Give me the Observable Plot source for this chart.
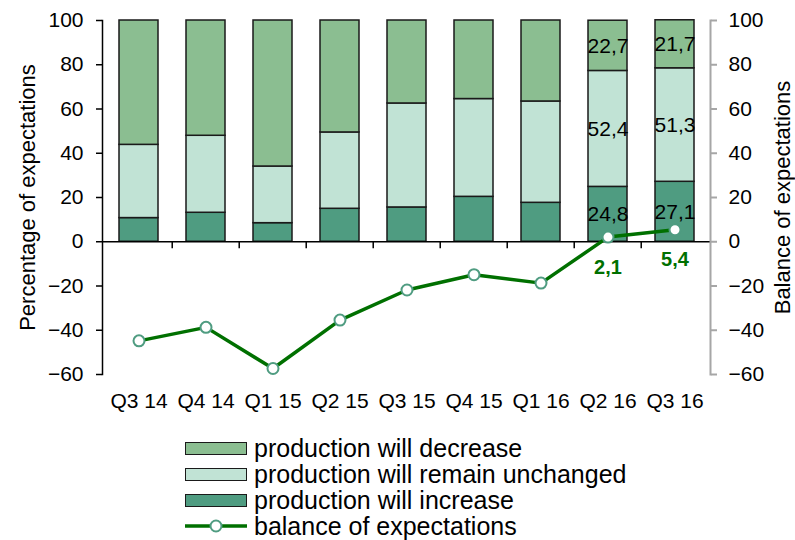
<!DOCTYPE html>
<html><head><meta charset="utf-8">
<script src="https://cdn.jsdelivr.net/npm/d3@7"></script>
<script src="https://cdn.jsdelivr.net/npm/@observablehq/plot@0.6"></script>
<style>
body{margin:0;background:#fff;font-family:"Liberation Sans",Arial,sans-serif;}
#chart{position:relative;width:795px;height:540px;overflow:hidden;}
#legend{position:absolute;left:185px;top:435px;}
.row{display:flex;align-items:center;height:26px;font-size:25px;line-height:26px;color:#000;white-space:nowrap;}
.sw{box-sizing:border-box;width:62px;height:13px;border:1.5px solid #1a1a1a;margin-right:7px;}
.ln{width:62px;height:14px;margin-right:7px;}
</style></head><body><div id="chart"><div id="legend"></div></div>
<script>
const quarters = ["Q3 14","Q4 14","Q1 15","Q2 15","Q3 15","Q4 15","Q1 16","Q2 16","Q3 16"];
const increase  = [10.7, 13.1, 8.4, 14.9, 15.5, 20.3, 17.6, 24.8, 27.1];
const unchanged = [33.1, 34.8, 25.6, 34.5, 47.0, 44.2, 45.8, 52.4, 51.3];
const decrease  = [56.2, 52.1, 66.0, 50.6, 37.5, 35.5, 36.6, 22.7, 21.7];
const balance   = [-44.8, -38.7, -57.3, -35.4, -21.8, -14.9, -18.7, 2.1, 5.4];
const yTicks = [-60, -40, -20, 0, 20, 40, 60, 80, 100];
const labelledQuarters = ["Q2 16", "Q3 16"];
const seriesNames = ["production will increase", "production will remain unchanged", "production will decrease"];
const lineName = "balance of expectations";
const seriesColors = ["#4f9c81", "#c1e3d5", "#8bbe91"];
const lineColor = "#007000";
const leftLabel = "Percentage of expectations";
const rightLabel = "Balance of expectations";

const fmt = v => v.toFixed(1).replace(".", ",");
const seriesValues = [increase, unchanged, decrease];
const rows = [];
quarters.forEach((q, i) => {
  let base = 0;
  seriesValues.forEach((vals, s) => {
    rows.push({q, s: seriesNames[s], v: vals[i], mid: base + vals[i] / 2});
    base += vals[i];
  });
});
const lineRows = quarters.map((q, i) => ({q, b: balance[i]}));
const labelRows = rows.filter(d => labelledQuarters.includes(d.q));
const balLabels = lineRows.filter(d => labelledQuarters.includes(d.q));

const W = 795, mL = 102, mR = 85;
const step = (W - mL - mR) / quarters.length;

const plot = Plot.plot({
  width: W, height: 430,
  marginLeft: mL, marginRight: mR, marginTop: 20, marginBottom: 56,
  style: {fontFamily: "Liberation Sans, Arial, sans-serif", fontSize: "21px", color: "#000", background: "#fff"},
  x: {type: "band", domain: quarters, paddingInner: 0.42, paddingOuter: 0.21, label: null},
  y: {domain: [-60, 100], label: null},
  color: {domain: seriesNames, range: seriesColors},
  marks: [
    Plot.barY(rows, {x: "q", y: "v", fill: "s", stroke: "#1a1a1a", strokeWidth: 1.5}),
    Plot.ruleY([0], {stroke: "#000", strokeWidth: 1.5}),
    Plot.ruleX(quarters.slice(1), {x: d => d, y1: 0, y2: 0, insetBottom: -7, dx: -step / 2, stroke: "#000", strokeWidth: 1.5}),
    Plot.frame({anchor: "left", stroke: "#000", strokeWidth: 1.5}),
    Plot.frame({anchor: "right", stroke: "#a6a6a6", strokeWidth: 2}),
    Plot.axisY({anchor: "left", ticks: yTicks, tickSize: 6, tickPadding: 13, strokeWidth: 1.5, label: null}),
    Plot.axisY({anchor: "right", ticks: yTicks, tickSize: 6, tickPadding: 12, stroke: "#a6a6a6", strokeWidth: 2, fill: "#000", label: null}),
    Plot.axisX({anchor: "bottom", tickSize: 0, tickPadding: 19, label: null}),
    Plot.line(lineRows, {x: "q", y: "b", stroke: lineColor, strokeWidth: 3.5}),
    Plot.dot(lineRows, {x: "q", y: "b", r: 5.5, fill: "#fff", stroke: "#4f9c81", strokeWidth: 2}),
    Plot.text(labelRows, {x: "q", y: "mid", text: d => fmt(d.v), fontSize: 21, fill: "#000"}),
    Plot.text(balLabels, {x: "q", y: "b", text: d => fmt(d.b), dy: 30, fontSize: 20, fontWeight: "bold", fill: lineColor}),
    Plot.text([leftLabel], {frameAnchor: "left", textAnchor: "middle", rotate: -90, dx: -75, fontSize: 22, fill: "#000"}),
    Plot.text([rightLabel], {frameAnchor: "right", textAnchor: "middle", rotate: -90, dx: 72, fontSize: 22, fill: "#000"})
  ]
});
const chart = document.getElementById("chart");
chart.insertBefore(plot, chart.firstChild);

const legend = document.getElementById("legend");
const legendItems = [[seriesNames[2], seriesColors[2]], [seriesNames[1], seriesColors[1]], [seriesNames[0], seriesColors[0]]];
legendItems.forEach(([name, col]) => {
  const r = document.createElement("div"); r.className = "row";
  r.innerHTML = `<div class="sw" style="background:${col}"></div><span>${name}</span>`;
  legend.appendChild(r);
});
const lr = document.createElement("div"); lr.className = "row";
lr.innerHTML = `<svg class="ln" width="62" height="14"><line x1="0" x2="62" y1="7" y2="7" stroke="${lineColor}" stroke-width="3.5"/><circle cx="31" cy="7" r="5.5" fill="#fff" stroke="#4f9c81" stroke-width="2"/></svg><span>${lineName}</span>`;
legend.appendChild(lr);
</script></body></html>
